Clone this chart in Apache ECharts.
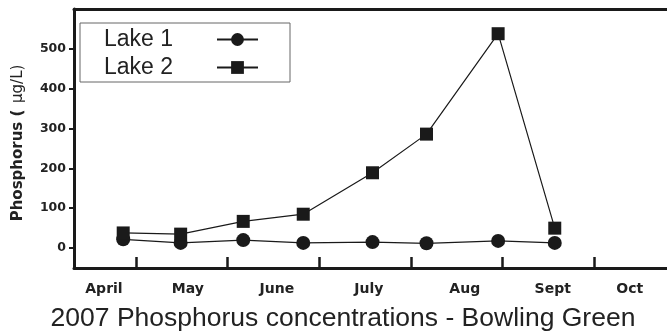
<!DOCTYPE html>
<html>
<head>
<meta charset="utf-8">
<script src="https://cdn.jsdelivr.net/npm/echarts@6/dist/echarts.min.js"></script>
<style>
html,body{margin:0;padding:0;background:#fff;}
#main{width:667px;height:335px;}
</style>
</head>
<body>
<div id="main"></div>
<script>
// Sampling position, in month units (1 = boundary between April and May, ...)
var sampleMonth = [0.861, 1.488, 2.171, 2.826, 3.582, 4.171, 4.953, 5.571];
var lake1 = [22, 13, 20, 13, 15, 12, 18, 13];
var lake2 = [38, 35, 67, 85, 189, 286, 538, 50];
var monthNames = ['April', 'May', 'June', 'July', 'Aug', 'Sept', 'Oct'];
var monthLabelPos = [0.651, 1.567, 2.538, 3.542, 4.589, 5.549, 6.389];
var monthTicks = [1, 2, 3, 4, 5, 6];
var yTicks = [0, 100, 200, 300, 400, 500];

var chart = echarts.init(document.getElementById('main'));
var ink = '#1a1a1a';
function pairs(xs, ys){ return xs.map(function(x,i){ return [x, ys[i]]; }); }

chart.setOption({
  animation: false,
  backgroundColor: '#fff',
  title: {
    text: '2007 Phosphorus concentrations - Bowling Green',
    left: 338, top: 300, textAlign: 'center',
    textStyle: {fontFamily: 'Liberation Sans', fontSize: 26.5, fontWeight: 'normal', color: '#222'}
  },
  grid: {left: 74, top: 9, right: 0, bottom: 67},
  legend: {
    left: 80, top: 23,
    orient: 'vertical',
    align: 'right',
    itemWidth: 41, itemHeight: 16, itemGap: 5,
    padding: [5, 31, 3, 24],
    backgroundColor: '#fff',
    borderColor: '#666', borderWidth: 1,
    formatter: function(n){ return '{a|' + n + '}'; },
    textStyle: {
      rich: {a: {fontFamily: 'Liberation Sans', fontSize: 23, color: '#222', width: 108, align: 'left'}}
    },
    data: ['Lake 1', 'Lake 2']
  },
  xAxis: [{
    type: 'value', min: 0.324, max: 6.796, position: 'bottom',
    splitLine: {show: false},
    axisLine: {show: true, onZero: false, lineStyle: {color: ink, width: 3}},
    axisTick: {show: true, inside: true, length: 11, customValues: monthTicks, lineStyle: {color: ink, width: 2.5}},
    axisLabel: {
      customValues: monthLabelPos, margin: 14,
      fontFamily: 'DejaVu Sans', fontWeight: 'bold', fontSize: 14, color: '#222',
      formatter: function(v){ var i = monthLabelPos.indexOf(v); return i >= 0 ? monthNames[i] : ''; }
    }
  }, {
    type: 'value', min: 0.324, max: 6.796, position: 'top',
    splitLine: {show: false},
    axisLine: {show: true, onZero: false, lineStyle: {color: ink, width: 3}},
    axisTick: {show: false}, axisLabel: {show: false}
  }],
  yAxis: {
    type: 'value', min: -50, max: 600,
    splitLine: {show: false},
    axisLine: {show: true, onZero: false, lineStyle: {color: ink, width: 3}},
    axisTick: {show: true, length: 5, customValues: yTicks, lineStyle: {color: ink, width: 2}},
    axisLabel: {customValues: yTicks, margin: 8, fontFamily: 'DejaVu Sans', fontWeight: 'bold', fontSize: 12.5, color: '#222'},
    name: '{b|Phosphorus (}  {n|μg/L)}',
    nameLocation: 'middle', nameRotate: 90, nameGap: 48,
    nameTextStyle: {
      padding: [0, 9, 0, 0],
      rich: {
        b: {fontFamily: 'DejaVu Sans', fontWeight: 'bold', fontSize: 15, color: '#222'},
        n: {fontFamily: 'DejaVu Sans', fontWeight: 'normal', fontSize: 15, color: '#222'}
      }
    }
  },
  series: [{
    name: 'Lake 1', type: 'line',
    data: pairs(sampleMonth, lake1),
    symbol: 'circle', symbolSize: 14,
    itemStyle: {color: ink},
    lineStyle: {color: ink, width: 1.2}
  }, {
    name: 'Lake 2', type: 'line',
    data: pairs(sampleMonth, lake2),
    symbol: 'rect', symbolSize: 13,
    itemStyle: {color: ink},
    lineStyle: {color: ink, width: 1.2}
  }]
});
</script>
</body>
</html>
